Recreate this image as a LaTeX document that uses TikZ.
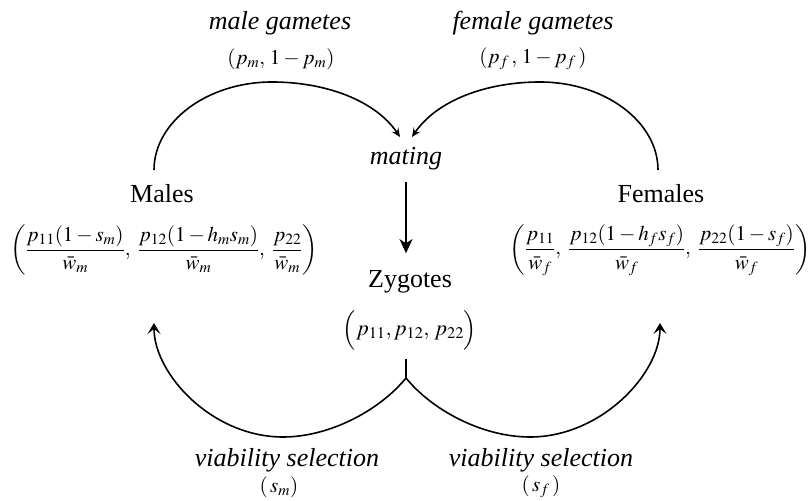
\documentclass[tikz,border=0pt]{standalone}
\usepackage{mathptmx}
\usepackage{fontspec}
\setmainfont{Liberation Serif}
\usepackage{tikz}
\usetikzlibrary{arrows.meta}

\begin{document}
\begin{tikzpicture}[x=1pt,y=1pt,line width=1.6pt,
  lbl/.style={font=\fontsize{26}{30}\selectfont\itshape,inner sep=0pt,anchor=base},
  pop/.style={font=\fontsize{26}{30}\selectfont,inner sep=0pt,anchor=base},
  frm/.style={font=\fontsize{21}{24}\selectfont,inner sep=0pt},
  gam/.style={-{Stealth[length=9pt,width=8pt,inset=3.5pt]}},
  sel/.style={-{Stealth[length=11pt,width=13pt,inset=5pt]}},
  mat/.style={-{Stealth[length=14pt,width=13pt,inset=4pt]}}]
\useasboundingbox (0,0) rectangle (810,500);
\node[lbl] (mg) at (280,470) {male gametes};
\node[frm] (mgp) at (281,441) {$(p_m,\,1-p_m)$};
\node[lbl] (fg) at (533,470) {female gametes};
\node[frm] (fgp) at (533,441) {$(p_f\,,\,1-p_f\,)$};
\node[lbl] (mating) at (406,335) {mating};
\node[pop] (males) at (162,297) {Males};
\node[frm] (mf) at (164,250) {$\displaystyle\left(\frac{p_{11}(1-s_m)}{\bar w_m},\;\frac{p_{12}(1-h_m s_m)}{\bar w_m},\;\frac{p_{22}}{\bar w_m}\right)$};
\node[pop] (females) at (661,297) {Females};
\node[frm] (ff) at (660,250) {$\displaystyle\left(\frac{p_{11}}{\bar w_f},\;\frac{p_{12}(1-h_f s_f)}{\bar w_f},\;\frac{p_{22}(1-s_f)}{\bar w_f}\right)$};
\node[pop] (zyg) at (410,212) {Zygotes};
\node[frm,font=\fontsize{22}{26}\selectfont] (zf) at (410,170) {$\Bigl(p_{11},p_{12},\,p_{22}\Bigr)$};
\node[lbl] (vsm) at (287,33) {viability selection};
\node[frm] (vsmp) at (279,13) {$(\,s_m)$};
\node[lbl] (vsf) at (541,33) {viability selection};
\node[frm] (vsfp) at (541,13) {$(\,s_f\,)$};
\coordinate (ms) at (154,330);
\coordinate (fs) at (658,330);
\coordinate (jn) at (406,122);
\coordinate (mt) at (154,177);
\coordinate (ft) at (660,177);
\draw[gam] (ms) .. controls (154,378) and (207,418) .. (272,418)
  .. controls (325,418) and (375,400) .. ([xshift=-6pt,yshift=10pt]mating.north);
\draw[gam] (fs) .. controls (658,378) and (605,418) .. (540,418)
  .. controls (487,418) and (437,400) .. ([xshift=6pt,yshift=10pt]mating.north);
\draw[mat] ([yshift=-11pt]mating.south) -- ([yshift=17pt]mating.south |- zyg.north);
\draw ([yshift=-8pt]zf.south -| jn) -- (jn);
\draw[sel] (jn) .. controls (380,90) and (330,63) .. (283,63)
  .. controls (212,63) and (154,126) .. (mt);
\draw[sel] (jn) .. controls (432,90) and (482,63) .. (530,63)
  .. controls (601,63) and (660,126) .. (ft);
\end{tikzpicture}
\end{document}
